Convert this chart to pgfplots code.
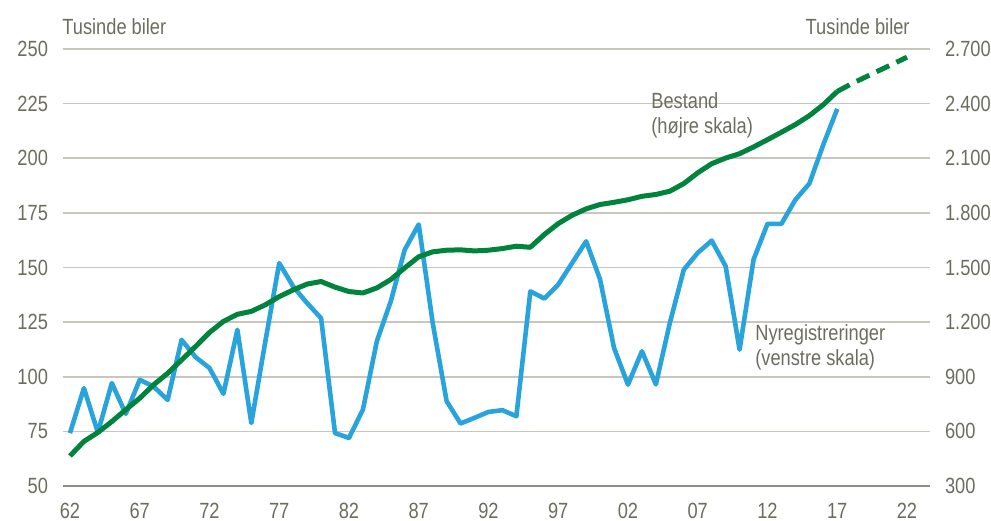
\documentclass[border=0pt]{standalone}
\usepackage{pgfplots}
\pgfplotsset{compat=1.18}
\usepackage{fontspec}
\setmainfont{Liberation Sans}[FakeStretch=0.83]
\definecolor{txt}{HTML}{6D6D5F}
\definecolor{grid}{HTML}{C9C6BE}
\definecolor{axl}{HTML}{8E8E86}
\definecolor{blu}{HTML}{29A3DC}
\definecolor{grn}{HTML}{00843D}
\begin{document}
\begin{tikzpicture}
\pgfplotsset{
  base/.style={
    scale only axis, width=433.5pt, height=218.5pt,
    xmin=1961.5, xmax=2023.65,
    font=\fontsize{11}{12.5}\selectfont, 
    tick style={draw=none},
    /pgf/number format/assume math mode=true,
    ticklabel style={text=txt, font=\fontsize{11}{12.5}\selectfont},
  }
}
\begin{axis}[base,
  ymin=50, ymax=250, ytick={50,75,...,250},
  axis y line*=left, axis x line*=bottom,
  y axis line style={draw=none},
  x axis line style={draw=axl, line width=1.2pt, -},
  ymajorgrids, grid style={draw=grid, line width=0.8pt},
  xtick={1962,1967,...,2022},
  xticklabels={62,67,72,77,82,87,92,97,02,07,12,17,22},
  xticklabel style={yshift=-5pt},
  yticklabel style={xshift=-4pt},
  clip=false,
]
\addplot[blu, line width=2.3pt, line join=round] coordinates {
(1962,74.2)(1963,94.8)(1964,74.5)(1965,97.1)(1966,83)(1967,98.6)(1968,95.5)(1969,89.4)
(1970,116.9)(1971,109)(1972,104)(1973,92.2)(1974,121.5)(1975,78.8)(1976,116)(1977,152)
(1978,141.3)(1979,133.7)(1980,126.8)(1981,74.2)(1982,72)(1983,85)(1984,116.3)(1985,134.6)
(1986,158.2)(1987,169.7)(1988,124.7)(1989,88.8)(1990,78.6)(1991,81.2)(1992,83.9)(1993,84.7)
(1994,81.9)(1995,139.1)(1996,135.8)(1997,142.2)(1998,152.1)(1999,162)(2000,144.5)(2001,113.2)
(2002,96.4)(2003,111.7)(2004,96.5)(2005,124.6)(2006,149)(2007,156.7)(2008,162.3)(2009,150.6)
(2010,112.4)(2011,153.6)(2012,170)(2013,170)(2014,181)(2015,188.4)(2016,206.2)(2017,222.6)
};
\node[text=txt, anchor=west, align=left, inner sep=0pt, font=\fontsize{11}{12.5}\selectfont]
  at (axis cs:2003.65,219.6) {Bestand\\(højre skala)};
\node[text=txt, anchor=west, align=left, inner sep=0pt, font=\fontsize{11}{12.5}\selectfont]
  at (axis cs:2011.1,113.4) {Nyregistreringer\\(venstre skala)};
\end{axis}
\begin{axis}[base,
  ymin=300, ymax=2700, ytick={300,600,...,2700},
  axis y line*=right, axis x line=none,
  y axis line style={draw=none},
  xtick=\empty,
  yticklabel style={xshift=4pt},
  /pgf/number format/.cd, use comma, 1000 sep={.},
]
\addplot[grn, line width=2.5pt, line join=round] coordinates {
(1962,465)(1963,545)(1964,594)(1965,654)(1966,719)(1967,782)(1968,856)(1969,919)
(1970,992)(1971,1066)(1972,1143)(1973,1204)(1974,1243)(1975,1259)(1976,1295)(1977,1340)
(1978,1377)(1979,1409)(1980,1423)(1981,1392)(1982,1368)(1983,1360)(1984,1388)(1985,1434)
(1986,1498)(1987,1559)(1988,1586)(1989,1595)(1990,1597)(1991,1591)(1992,1595)(1993,1604)
(1994,1617)(1995,1611)(1996,1681)(1997,1741)(1998,1787)(1999,1822)(2000,1846)(2001,1858)
(2002,1872)(2003,1891)(2004,1901)(2005,1919)(2006,1961)(2007,2020)(2008,2070)(2009,2101)
(2010,2125)(2011,2162)(2012,2202)(2013,2243)(2014,2285)(2015,2334)(2016,2394)(2017,2467)
};
\addplot[grn, line width=2.5pt, dash pattern=on 7pt off 4pt] coordinates {
(2017,2467)(2018,2508)(2019,2545)(2020,2582)(2021,2618)(2022,2655)
};
\end{axis}
\node[text=txt, anchor=west, inner sep=0pt, font=\fontsize{11}{12.5}\selectfont]
  at ([xshift=-0.5pt,yshift=11pt]current axis.north west) {Tusinde biler};
\node[text=txt, anchor=east, inner sep=0pt, font=\fontsize{11}{12.5}\selectfont]
  at ([xshift=-10pt,yshift=11pt]current axis.north east) {Tusinde biler};
\pgfresetboundingbox
\path ([xshift=-31.5pt,yshift=-17pt]current axis.south west) rectangle ([xshift=30.5pt,yshift=24.5pt]current axis.north east);
\end{tikzpicture}
\end{document}
